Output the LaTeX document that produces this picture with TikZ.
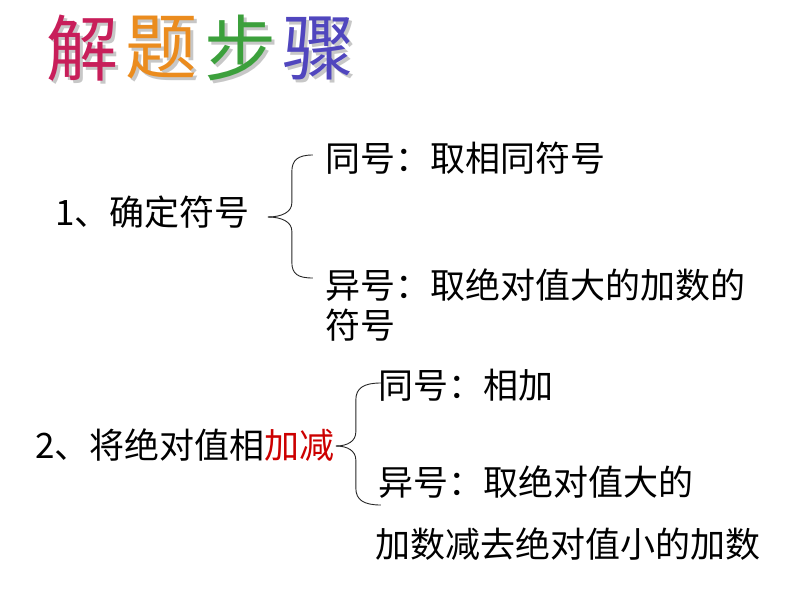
\documentclass[tikz,border=0pt]{standalone}
\usepackage{fontspec}
\setmainfont{Noto Sans CJK SC}
\usepackage{xcolor}
\usetikzlibrary{positioning}
\definecolor{tRed}{RGB}{200,30,90}
\definecolor{tOrange}{RGB}{235,140,30}
\definecolor{tGreen}{RGB}{60,160,60}
\definecolor{tBlue}{RGB}{80,70,190}
\definecolor{addred}{RGB}{204,0,0}

\begin{document}
\begin{tikzpicture}[
  x=1pt, y=-1pt,
  font=\fontsize{35}{40}\selectfont,
  txt/.style={anchor=west, inner sep=0pt, align=left},
  ttl/.style={font=\fontsize{72}{72}\selectfont, inner sep=0pt},
  shd/.style={ttl, text=black!22},
  brc/.style={line width=0.9pt, black!85},
]
\useasboundingbox (0,0) rectangle (794,596);
% title
\foreach \ch/\col/\x in {解/tRed/82, 题/tOrange/161, 步/tGreen/240, 骤/tBlue/318}{
  \node[shd] (sh\x) at (\x+3,51) {\ch};
  \node[ttl, text=\col] (tt\x) at (\x,48) {\ch};
}
% step 1
\node[txt] (sgn) at (55,212) {1、确定符号};
\node[txt] (same1) at (325,158) {同号：取相同符号};
\node[txt] (diff1) at (325,305) {异号：取绝对值大的加数的\\符号};
\coordinate (b1) at ([xshift=18pt]sgn.east |- 0,217);
\draw[brc] (b1) .. controls +(14,0) and +(0,9) .. ++(24,-14) -- ++(0,-31)
  .. controls +(0,-12) and +(-15,0) .. ++(21,-17);
\draw[brc] (b1) .. controls +(14,0) and +(0,-9) .. ++(24,14) -- ++(0,31)
  .. controls +(0,12) and +(-15,0) .. ++(21,16);
% step 2
\node[txt] (add) at (35,445) {2、将绝对值相\textcolor{addred}{加减}};
\node[txt] (same2) at (378,385) {同号：相加};
\node[txt] (diff2) at (378,482) {异号：取绝对值大的};
\node[txt] (diff2b) at (375,544) {加数减去绝对值小的加数};
\coordinate (b2) at ([xshift=1pt]add.east |- 0,446);
\draw[brc] (b2) .. controls +(12,0) and +(0,9) .. ++(20,-14) -- ++(0,-32)
  .. controls +(0,-12) and +(-17,0) .. ++(25,-17);
\draw[brc] (b2) .. controls +(12,0) and +(0,-9) .. ++(20,14) -- ++(0,28)
  .. controls +(0,12) and +(-17,0) .. ++(25,17);
\end{tikzpicture}
\end{document}
